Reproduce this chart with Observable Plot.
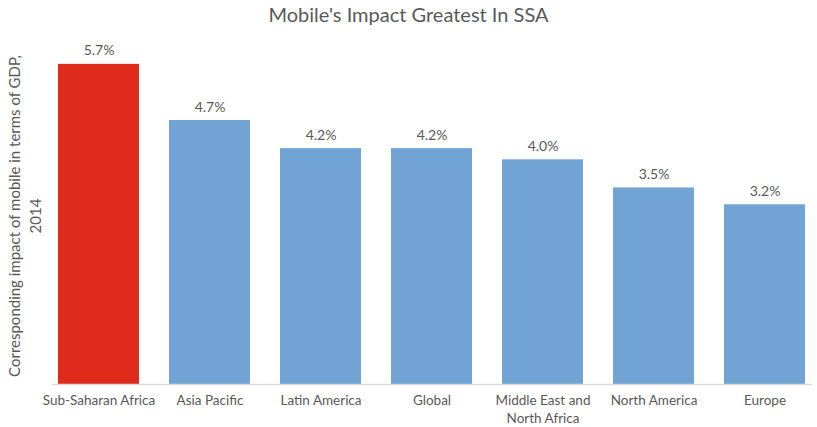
<!DOCTYPE html>
<html>
<head>
<meta charset="utf-8">
<script src="https://cdn.jsdelivr.net/npm/d3@7"></script>
<script src="https://cdn.jsdelivr.net/npm/@observablehq/plot@0.6"></script>
<style>
  body { margin: 0; background: #fff; font-family: Lato, "Open Sans", sans-serif; }
  #title { height: 28px; line-height: 28px; text-align: center; font-size: 20px; color: #595959; }
</style>
</head>
<body>
<div id="title">Mobile's Impact Greatest In SSA</div>
<div id="chart"></div>
<script>
const regions = ["Sub-Saharan Africa", "Asia Pacific", "Latin America", "Global", "Middle East and North Africa", "North America", "Europe"];
const tickLabels = ["Sub-Saharan Africa", "Asia Pacific", "Latin America", "Global", "Middle East and\nNorth Africa", "North America", "Europe"];
const impact = [5.7, 4.7, 4.2, 4.2, 4.0, 3.5, 3.2];
const highlight = ["Sub-Saharan Africa"];
const yLabel = "Corresponding impact of mobile in terms of GDP,\n2014";

const data = regions.map((r, i) => ({region: r, value: impact[i], hi: highlight.includes(r)}));
const labelOf = new Map(regions.map((r, i) => [r, tickLabels[i]]));

const chart = Plot.plot({
  width: 817,
  height: 399,
  marginTop: 19,
  marginBottom: 43,
  marginLeft: 52,
  marginRight: 5,
  style: {fontFamily: "Lato, 'Open Sans', sans-serif", fontSize: "14px", color: "#595959", background: "#fff"},
  x: {domain: regions, paddingInner: 0.27, paddingOuter: 0.05, label: null},
  y: {domain: [0, 6], axis: null},
  marks: [
    Plot.barY(data, {x: "region", y: "value", fill: d => d.hi ? "#DE2B1B" : "#71A4D5"}),
    Plot.ruleY([0], {stroke: "#d9d9d9", strokeWidth: 1.5}),
    Plot.axisX({tickSize: 0, tickPadding: 8, tickFormat: d => labelOf.get(d), lineHeight: 1.3, fontSize: 13.5, fill: "#595959", label: null}),
    Plot.text(data, {x: "region", y: "value", text: d => d.value.toFixed(1) + "%", lineAnchor: "bottom", dy: -9, fill: "#595959", fontSize: 14}),
    Plot.text([yLabel], {frameAnchor: "left", textAnchor: "middle", rotate: -90, dx: -29, lineAnchor: "middle", lineHeight: 1.4, fill: "#595959", fontSize: 15})
  ]
});
document.getElementById("chart").appendChild(chart);
</script>
</body>
</html>
